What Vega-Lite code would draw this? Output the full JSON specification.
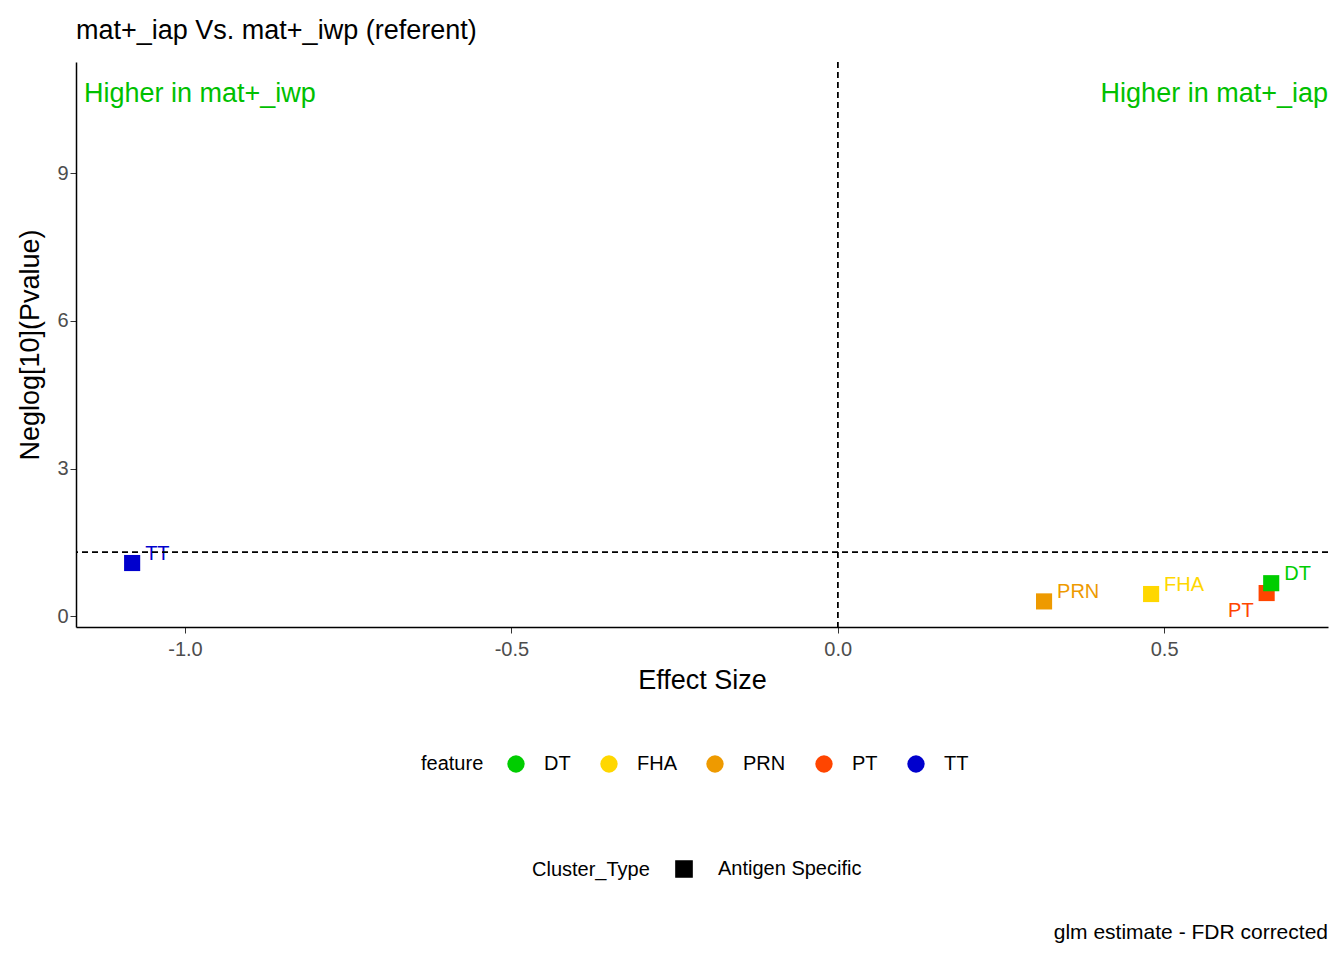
{
  "$schema": "https://vega.github.io/schema/vega-lite/v6.json",
  "autosize": "none",
  "width": 1252,
  "height": 565,
  "padding": {"left": 76, "top": 62, "right": 16, "bottom": 333},
  "background": "white",
  "title": {"text": "mat+_iap Vs. mat+_iwp (referent)", "anchor": "start", "frame": "group", "fontSize": 27, "fontWeight": "normal", "font": "Liberation Sans", "color": "black", "offset": 16},
  "datasets": {
    "points": [
      {"feature": "TT", "effect": -1.081, "neglog": 1.08, "Cluster_Type": "Antigen Specific"},
      {"feature": "PRN", "effect": 0.316, "neglog": 0.30, "Cluster_Type": "Antigen Specific"},
      {"feature": "FHA", "effect": 0.48, "neglog": 0.45, "Cluster_Type": "Antigen Specific"},
      {"feature": "PT", "effect": 0.657, "neglog": 0.47, "Cluster_Type": "Antigen Specific"},
      {"feature": "DT", "effect": 0.664, "neglog": 0.67, "Cluster_Type": "Antigen Specific"}
    ],
    "notes": [
      {"label": "Higher in mat+_iwp", "x": -1.167, "y": 10.6, "side": "left"},
      {"label": "Higher in mat+_iap", "x": 0.751, "y": 10.6, "side": "right"}
    ]
  },
  "layer": [
    {
      "data": {"name": "points"},
      "mark": {"type": "point", "filled": true, "size": 260, "opacity": 1, "shape": "square"},
      "encoding": {
        "x": {"field": "effect", "type": "quantitative", "title": "Effect Size",
          "scale": {"domain": [-1.167, 0.751], "nice": false, "zero": false},
          "axis": {"values": [-1, -0.5, 0, 0.5], "labelExpr": "datum.value == 0 ? '0.0' : datum.value == 0.5 ? '0.5' : datum.value == -0.5 ? '-0.5' : '-1.0'"}},
        "y": {"field": "neglog", "type": "quantitative", "title": "Neglog[10](Pvalue)",
          "scale": {"domain": [-0.22, 11.26], "nice": false, "zero": false},
          "axis": {"values": [0, 3, 6, 9]}},
        "color": {"field": "feature", "type": "nominal",
          "scale": {"domain": ["DT", "FHA", "PRN", "PT", "TT"], "range": ["#00CD00", "#FFD700", "#EE9A00", "#FF4500", "#0000CD"]},
          "legend": {"orient": "none", "legendX": 345, "legendY": 692, "direction": "horizontal", "symbolType": "circle", "symbolSize": 300, "symbolOpacity": 1, "columnPadding": 28, "labelOffset": 18, "titleOrient": "left", "titlePadding": 22}},
        "shape": {"field": "Cluster_Type", "type": "nominal", "scale": {"range": ["square"]},
          "legend": {"orient": "none", "legendX": 456, "legendY": 797, "direction": "horizontal", "symbolFillColor": "black", "symbolStrokeColor": "black", "symbolSize": 260, "labelOffset": 24, "titleOrient": "left", "titlePadding": 24}}
      }
    },
    {"data": {"name": "points"}, "transform": [{"filter": "datum.feature !== 'PT'"}],
      "mark": {"type": "text", "align": "left", "dx": 13, "dy": -9, "fontSize": 20, "font": "Liberation Sans"},
      "encoding": {"x": {"field": "effect", "type": "quantitative"}, "y": {"field": "neglog", "type": "quantitative"},
        "text": {"field": "feature"}, "color": {"field": "feature", "type": "nominal", "legend": null}}},
    {"data": {"name": "points"}, "transform": [{"filter": "datum.feature === 'PT'"}],
      "mark": {"type": "text", "align": "right", "dx": -13, "dy": 18, "fontSize": 20, "font": "Liberation Sans"},
      "encoding": {"x": {"field": "effect", "type": "quantitative"}, "y": {"field": "neglog", "type": "quantitative"},
        "text": {"field": "feature"}, "color": {"field": "feature", "type": "nominal", "legend": null}}},
    {"data": {"name": "notes"},
      "mark": {"type": "rule", "strokeDash": [6, 4], "color": "black", "strokeWidth": 1.5},
      "encoding": {"x": {"datum": 0}}},
    {"data": {"name": "notes"},
      "mark": {"type": "rule", "strokeDash": [6, 4], "color": "black", "strokeWidth": 1.5},
      "encoding": {"y": {"datum": 1.301}}},
    {"data": {"name": "notes"}, "transform": [{"filter": "datum.side === 'left'"}],
      "mark": {"type": "text", "align": "left", "baseline": "middle", "fontSize": 27, "font": "Liberation Sans", "color": "#00C000", "dx": 8},
      "encoding": {"x": {"field": "x", "type": "quantitative"}, "y": {"field": "y", "type": "quantitative"}, "text": {"field": "label"}}},
    {"data": {"name": "notes"}, "transform": [{"filter": "datum.side === 'right'"}],
      "mark": {"type": "text", "align": "right", "baseline": "middle", "fontSize": 27, "font": "Liberation Sans", "color": "#00C000"},
      "encoding": {"x": {"field": "x", "type": "quantitative"}, "y": {"field": "y", "type": "quantitative"}, "text": {"field": "label"}}},
    {"data": {"values": [{"caption": "glm estimate - FDR corrected"}]},
      "mark": {"type": "text", "align": "right", "baseline": "middle", "fontSize": 21, "font": "Liberation Sans", "color": "black", "clip": false},
      "encoding": {"x": {"datum": 0.751}, "y": {"datum": -6.44}, "text": {"field": "caption"}}}
  ],
  "config": {
    "view": {"stroke": null},
    "font": "Liberation Sans",
    "axis": {"grid": false, "domainColor": "black", "domainWidth": 1.5, "tickColor": "#333333", "tickSize": 6, "labelFontSize": 20, "labelColor": "#4D4D4D", "titleFontSize": 27, "titleFontWeight": "normal", "titleColor": "black", "labelFont": "Liberation Sans", "titleFont": "Liberation Sans"},
    "axisX": {"titlePadding": 8, "labelPadding": 6},
    "axisY": {"titlePadding": 12},
    "legend": {"labelFontSize": 20, "titleFontSize": 20, "titleFontWeight": "normal", "labelFont": "Liberation Sans", "titleFont": "Liberation Sans", "labelColor": "black"}
  }
}
